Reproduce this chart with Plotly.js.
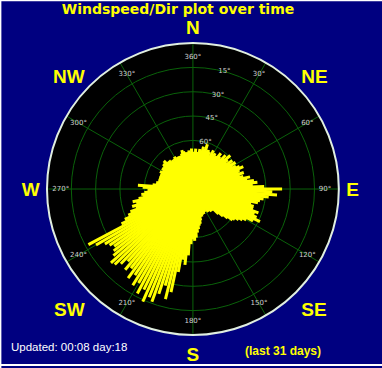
<!DOCTYPE html>
<html>
<head>
<meta charset="utf-8">
<script src="https://cdn.plot.ly/plotly-3.0.1.min.js"></script>
<style>html,body{margin:0;padding:0;background:#000080;}#chart{width:382px;height:368px;}</style>
</head>
<body>
<div id="chart"></div>
<script>
// Wind direction of each ray (degrees, clockwise from North)
const dirDeg = [0,2,4,6,8,10,12,14,16,18,20,22,24,26,28,30,32,34,36,38,40,42,44,46,48,50,52,54,56,58,
60,62,64,66,68,70,72,74,76,78,80,82,84,86,88,90,92,94,96,98,100,102,104,106,108,110,112,114,116,118,
120,122,124,126,128,130,132,134,136,138,140,142,144,146,148,150,152,154,156,158,160,162,164,166,168,170,172,174,176,178,
180,182,184,186,188,190,192,194,196,198,200,202,204,206,208,210,212,214,216,218,220,222,224,226,228,230,232,234,236,238,
240,242,244,246,248,250,252,254,256,258,260,262,264,266,268,270,272,274,276,278,280,282,284,286,288,290,292,294,296,298,
300,302,304,306,308,310,312,314,316,318,320,322,324,326,328,330,332,334,336,338,340,342,344,346,348,350,352,354,356,358];
// Radial coordinate of each ray tip (axis runs 90 at centre to 0 at rim)
const tipR = [67,68,65,67,68,65,66,63,64,61,65,64,65,67,63,65,64,66,65,62,64,65,61,63,59,62,64,60,62,59,
62,60,58,56,59,60,57,60,58,54,56,52,50,53,46,35,41,38,43,46,48,49,53,51,51,47,49,47,44,48,
52,54,56,58,59,62,65,68,72,73,72,73,75,73,75,76,74,75,73,75,73,72,73,70,68,67,65,63,60,58,
59,56,49,43,46,38,25,20,28,22,16,18,14,21,17,23,20,26,22,28,25,30,26,23,22,26,28,30,28,26,
21,17,41,44,47,49,53,51,54,52,56,59,58,60,62,63,59,56,65,68,67,69,68,70,68,69,68,70,68,67,
69,68,67,68,67,66,68,65,67,68,67,69,68,70,68,67,69,68,68,70,68,67,65,66,67,67,68,66,67,65];
const centerR = 90;
const ringValues = [15,30,45,60,75];
const ringLabels = ['15°','30°','45°','60°','75°'];
const ringLabelAngle = 15;
const degreeAngles = [0,30,60,90,120,150,180,210,240,270,300,330];
const degreeLabels = ['360°','30°','60°','90°','120°','150°','180°','210°','240°','270°','300°','330°'];
const degreeLabelR = 8.5;
const compassAngles = [45,90,135,180,225,270,315];
const compassLabels = ['NE','E','SE','S','SW','W','NW'];
const northAngle = [0];
const northLabel = ['N'];

const rr = [], tt = [];
for (let i = 0; i < dirDeg.length; i++) {
  rr.push(centerR, tipR[i], null);
  tt.push(dirDeg[i], dirDeg[i], null);
}
const labelFont = {family:'DejaVu Sans', size:7, color:'#d0d0d0'};
const compassFont = {family:'Liberation Sans, Arial', size:19, color:'#ffff00', weight:'bold'};

const traces = [
  {type:'scatterpolar', subplot:'polar', mode:'text', r:ringValues, theta:ringValues.map(()=>ringLabelAngle),
   text:ringLabels, textfont:labelFont, cliponaxis:false, hoverinfo:'skip', showlegend:false},
  {type:'scatterpolar', subplot:'polar', mode:'lines', r:rr, theta:tt,
   line:{color:'#ffff00', width:3}, connectgaps:false, hoverinfo:'skip', showlegend:false},
  {type:'scatterpolar', subplot:'polar', mode:'text', r:degreeAngles.map(()=>degreeLabelR), theta:degreeAngles,
   text:degreeLabels, textfont:labelFont, cliponaxis:false, hoverinfo:'skip', showlegend:false},
  {type:'scatterpolar', subplot:'polar2', mode:'markers', r:[], theta:[], showlegend:false, hoverinfo:'skip'},
  {type:'scatterpolar', subplot:'polar3', mode:'markers', r:[], theta:[], showlegend:false, hoverinfo:'skip'}
];

const dom = {x:[0.123,0.887], y:[0.0897,0.883]};
const layout = {
  width:382, height:368,
  paper_bgcolor:'#000080',
  margin:{l:0,r:0,t:0,b:0},
  showlegend:false,
  title:{text:'Windspeed/Dir plot over time', font:{family:'DejaVu Sans', size:14, color:'#ffff00', weight:'bold'},
         x:0.466, xanchor:'center', y:0.974, yanchor:'middle'},
  polar:{
    domain:dom, bgcolor:'#000000',
    radialaxis:{range:[90,0], tickvals:ringValues, showticklabels:false, angle:75, showline:false, ticks:'',
      gridcolor:'#0a620a', gridwidth:1, layer:'below traces'},
    angularaxis:{rotation:90, direction:'clockwise', tickvals:degreeAngles, showticklabels:false, ticks:'',
      gridcolor:'#0a620a', gridwidth:1, linecolor:'#e0eee0', linewidth:2, layer:'below traces'}
  },
  polar2:{
    domain:dom, bgcolor:'rgba(0,0,0,0)',
    radialaxis:{visible:false, range:[90,0]},
    angularaxis:{rotation:90, direction:'clockwise', tickvals:compassAngles, ticktext:compassLabels,
      showgrid:false, showline:false, ticks:'outside', ticklen:3, tickcolor:'rgba(0,0,0,0)', tickfont:compassFont}
  },
  polar3:{
    domain:dom, bgcolor:'rgba(0,0,0,0)',
    radialaxis:{visible:false, range:[90,0]},
    angularaxis:{rotation:90, direction:'clockwise', tickvals:northAngle, ticktext:northLabel,
      showgrid:false, showline:false, ticks:'outside', ticklen:1, tickcolor:'rgba(0,0,0,0)', tickfont:compassFont}
  },
  annotations:[
    {text:'Updated: 00:08 day:18', xref:'paper', yref:'paper', x:0.0236, y:0.057, xanchor:'left', yanchor:'middle',
     showarrow:false, font:{family:'Liberation Sans, Arial', size:11.5, color:'#ffffff'}},
    {text:'(last 31 days)', xref:'paper', yref:'paper', x:0.742, y:0.046, xanchor:'center', yanchor:'middle',
     showarrow:false, font:{family:'Liberation Sans, Arial', size:12, color:'#ffff00', weight:'bold'}}
  ],
  shapes:[
    {type:'line', xref:'paper', yref:'paper', x0:0, x1:1, y0:0.999, y1:0.999, line:{color:'#ffffff', width:2}},
    {type:'line', xref:'paper', yref:'paper', x0:0.001, x1:0.001, y0:0, y1:1, line:{color:'#ffffff', width:2}},
    {type:'line', xref:'paper', yref:'paper', x0:0, x1:1, y0:0.0082, y1:0.0082, line:{color:'#ffffff', width:2}}
  ]
};
Plotly.newPlot('chart', traces, layout, {displayModeBar:false, staticPlot:true});
</script>
</body>
</html>
